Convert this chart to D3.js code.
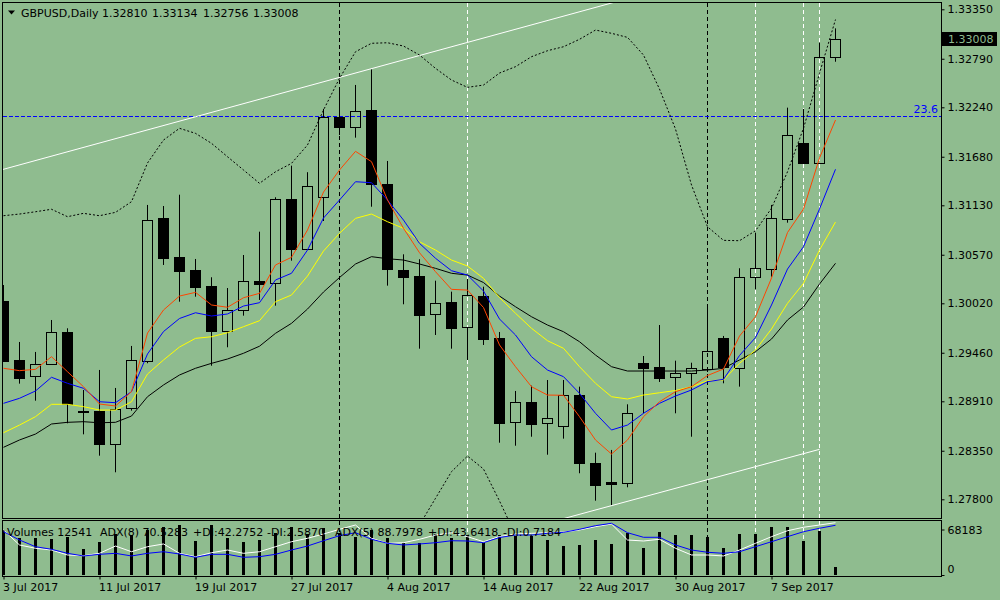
<!DOCTYPE html>
<html>
<head>
<meta charset="utf-8">
<script src="https://cdn.jsdelivr.net/npm/d3@7"></script>
<style>
  body { margin: 0; background: #8fbc8f; }
  svg { display: block; font-family: "DejaVu Sans", Verdana, sans-serif; }
</style>
</head>
<body>
<script>
// GBPUSD daily, 3 Jul 2017 .. 13 Sep 2017 (one entry per bar)
const symbol = "GBPUSD,Daily";

const open = [1.30050, 1.29378, 1.29200, 1.29329, 1.29695, 1.28803, 1.28800, 1.28430, 1.28831, 1.29370,
  1.30983, 1.30541, 1.30397, 1.30216, 1.29710, 1.29941, 1.30276, 1.30247, 1.31201, 1.30639,
  1.31228, 1.32127, 1.32014, 1.32210, 1.31371, 1.30397, 1.30329, 1.29896, 1.30032, 1.29748,
  1.30103, 1.29624, 1.28672, 1.28899, 1.28661, 1.28627, 1.28978, 1.28208, 1.27991, 1.27982,
  1.29341, 1.29295, 1.29182, 1.29227, 1.29279, 1.29627, 1.29291, 1.30315, 1.30405, 1.30978,
  1.31836, 1.31613, 1.32810];
const high = [1.30227, 1.29582, 1.29469, 1.29831, 1.29737, 1.29038, 1.29265, 1.29061, 1.29537, 1.31134,
  1.31122, 1.31250, 1.30522, 1.30315, 1.30193, 1.30567, 1.30831, 1.31221, 1.31579, 1.31505,
  1.32221, 1.32444, 1.32493, 1.32670, 1.31632, 1.30575, 1.30519, 1.30276, 1.30152, 1.30295,
  1.30208, 1.29695, 1.29027, 1.29087, 1.29151, 1.29151, 1.29076, 1.28328, 1.28359, 1.28876,
  1.29423, 1.29774, 1.29370, 1.29347, 1.29970, 1.29650, 1.30417, 1.30820, 1.31134, 1.32236,
  1.32221, 1.32972, 1.33134];
const low = [1.29355, 1.29110, 1.28917, 1.29321, 1.28661, 1.28536, 1.28294, 1.28106, 1.28804, 1.29341,
  1.30454, 1.30038, 1.30095, 1.29313, 1.29522, 1.29880, 1.30058, 1.29993, 1.30503, 1.30624,
  1.30952, 1.31926, 1.31896, 1.31114, 1.30220, 1.30009, 1.29506, 1.29661, 1.29506, 1.29378,
  1.29548, 1.28441, 1.28407, 1.28509, 1.28305, 1.28487, 1.28095, 1.27784, 1.27732, 1.27936,
  1.28774, 1.29129, 1.28774, 1.28509, 1.29242, 1.29114, 1.29076, 1.30179, 1.30321, 1.30933,
  1.31598, 1.31598, 1.32756];
const close = [1.29370, 1.29177, 1.29329, 1.29692, 1.28880, 1.28800, 1.28430, 1.28823, 1.29378, 1.30964,
  1.30537, 1.30389, 1.30208, 1.29710, 1.29941, 1.30273, 1.30242, 1.31198, 1.30635, 1.31349,
  1.32127, 1.32020, 1.32202, 1.31368, 1.30405, 1.30321, 1.29888, 1.30020, 1.29744, 1.30111,
  1.29619, 1.28668, 1.28899, 1.28656, 1.28718, 1.28978, 1.28208, 1.27966, 1.27974, 1.28774,
  1.29291, 1.29177, 1.29227, 1.29284, 1.29476, 1.29302, 1.30318, 1.30417, 1.30983, 1.31923,
  1.31613, 1.32806, 1.33008];

const maRed = [1.29284, 1.29257, 1.29272, 1.29415, 1.29245, 1.29075, 1.28879, 1.28857, 1.29019, 1.29683,
  1.29944, 1.30102, 1.30144, 1.30001, 1.29975, 1.30083, 1.30133, 1.30454, 1.30541, 1.30850,
  1.31280, 1.31530, 1.31741, 1.31624, 1.31190, 1.30869, 1.30593, 1.30378, 1.30178, 1.30170,
  1.29972, 1.29548, 1.29302, 1.29075, 1.28981, 1.28978, 1.28736, 1.28472, 1.28313, 1.28472,
  1.28736, 1.28905, 1.29019, 1.29075, 1.29202, 1.29276, 1.29649, 1.29868, 1.30306, 1.30822,
  1.31088, 1.31666, 1.32096];
const maBlue = [1.28887, 1.28944, 1.29027, 1.29182, 1.29114, 1.29057, 1.28905, 1.28894, 1.29019, 1.29446,
  1.29700, 1.29848, 1.29913, 1.29876, 1.29899, 1.29989, 1.30027, 1.30284, 1.30360, 1.30623,
  1.30986, 1.31190, 1.31397, 1.31386, 1.31190, 1.30963, 1.30699, 1.30530, 1.30389, 1.30340,
  1.30159, 1.29842, 1.29661, 1.29415, 1.29264, 1.29189, 1.29000, 1.28774, 1.28585, 1.28641,
  1.28774, 1.28887, 1.28970, 1.29038, 1.29132, 1.29159, 1.29429, 1.29632, 1.30001, 1.30408,
  1.30661, 1.31088, 1.31538];
const maYellow = [1.28554, 1.28641, 1.28736, 1.28876, 1.28876, 1.28849, 1.28811, 1.28811, 1.28905, 1.29219,
  1.29378, 1.29525, 1.29623, 1.29641, 1.29687, 1.29755, 1.29823, 1.30038, 1.30114, 1.30329,
  1.30612, 1.30813, 1.30982, 1.31031, 1.30944, 1.30869, 1.30717, 1.30623, 1.30510, 1.30442,
  1.30303, 1.30085, 1.29907, 1.29737, 1.29596, 1.29510, 1.29302, 1.29114, 1.28962, 1.28936,
  1.28981, 1.29007, 1.29032, 1.29075, 1.29143, 1.29151, 1.29340, 1.29491, 1.29729, 1.30020,
  1.30246, 1.30623, 1.30941];
const maBlack = [1.28389, 1.28472, 1.28539, 1.28653, 1.28672, 1.28679, 1.28667, 1.28672, 1.28743, 1.28962,
  1.29095, 1.29208, 1.29284, 1.29340, 1.29389, 1.29454, 1.29534, 1.29680, 1.29793, 1.29955,
  1.30148, 1.30312, 1.30465, 1.30548, 1.30525, 1.30510, 1.30465, 1.30416, 1.30360, 1.30340,
  1.30255, 1.30102, 1.29981, 1.29868, 1.29774, 1.29698, 1.29585, 1.29434, 1.29302, 1.29253,
  1.29253, 1.29253, 1.29253, 1.29253, 1.29264, 1.29284, 1.29378, 1.29472, 1.29615, 1.29831,
  1.29978, 1.30238, 1.30473];

const bbUpper = [1.31012, 1.31031, 1.31057, 1.31085, 1.31001, 1.31039, 1.31012, 1.31050, 1.31171, 1.31609,
  1.31869, 1.32002, 1.31945, 1.31832, 1.31680, 1.31530, 1.31379, 1.31510, 1.31605, 1.31813,
  1.32209, 1.32568, 1.32869, 1.32965, 1.32971, 1.32934, 1.32832, 1.32681, 1.32549, 1.32466,
  1.32492, 1.32628, 1.32700, 1.32813, 1.32881, 1.32926, 1.33010, 1.33115, 1.33078, 1.33032,
  1.32832, 1.32447, 1.31994, 1.31360, 1.30887, 1.30733, 1.30729, 1.30842, 1.31096, 1.31510,
  1.32002, 1.32625, 1.33234];
// lower band is only on screen for a few bars
const bbLower = [null, null, null, null, null, null, null, null, null, null,
  null, null, null, null, null, null, null, null, null, null,
  null, null, null, null, null, 1.27113, 1.27509, 1.27811, 1.28113, 1.28290,
  1.28143, 1.27781, 1.27396, null, null, null, null, null, null, null,
  null, null, null, null, null, null, null, null, null, null,
  null, null, null];

const volumes = [67430, 55815, 54909, 53853, 57323, 38768, 49780, 60943, 59887, 67430,
  72408, 74972, 50836, 74972, 54909, 48875, 52345, 62452, 72408, 61396,
  69994, 62452, 57323, 67430, 55815, 47367, 47367, 60943, 54909, 59887,
  48272, 59887, 58832, 58832, 52345, 43747, 44802, 52345, 46311, 62452,
  39824, 63960, 59887, 59887, 56418, 39824, 61396, 61396, 71503, 72408,
  51289, 66374, 12541];
const adxWhite = [83.2, 56.1, 50.1, 47.0, 38.0, 36.7, 41.0, 54.2, 43.9, 53.0,
  57.9, 41.0, 34.9, 42.1, 47.0, 41.0, 43.9, 53.0, 62.0, 68.2,
  75.9, 84.4, 92.2, 68.2, 59.1, 60.2, 66.4, 74.1, 78.3, 71.1,
  62.0, 71.4, 75.9, 77.2, 78.3, 79.6, 83.2, 89.2, 94.0, 65.1,
  63.3, 66.4, 50.1, 38.0, 38.0, 36.2, 47.0, 59.1, 71.1, 81.9,
  88.1, 92.2, 96.4];
const adxBlue = [80.1, 65.1, 53.0, 48.3, 41.0, 36.2, 39.2, 41.0, 36.2, 41.0,
  43.9, 39.8, 33.8, 39.2, 39.2, 33.8, 34.9, 39.2, 47.0, 54.2,
  63.8, 72.9, 78.3, 66.4, 59.1, 56.1, 57.9, 60.2, 63.8, 63.3,
  60.2, 69.6, 74.1, 74.1, 77.2, 79.0, 84.4, 91.0, 95.3, 78.3,
  70.0, 70.0, 56.1, 47.0, 42.9, 41.0, 43.9, 53.0, 62.0, 71.1,
  80.1, 86.3, 91.7];

const priceTicks = [1.33350, 1.32790, 1.32240, 1.31680, 1.31130, 1.30570, 1.30020, 1.29460, 1.28910, 1.28350, 1.27800];
const volTicks = [68183, 0];
const dateTickBars = [0, 6, 12, 18, 24, 30, 36, 42, 48];
const dateTickLabels = ["3 Jul 2017", "11 Jul 2017", "19 Jul 2017", "27 Jul 2017", "4 Aug 2017",
  "14 Aug 2017", "22 Aug 2017", "30 Aug 2017", "7 Sep 2017"];

// chart objects
const blackVLines = [21, 44];
const whiteVLines = [29, 47, 50, 51];
const fibLevel = 1.32138, fibLabel = "23.6";
const channelUpper = [[0, 1.31538], [36, 1.33322]];
const channelLower = [[36, 1.27630], [51, 1.28366]];

const adxText = [
  ["Volumes 12541", 7], ["ADX(8) 70.5283", 100], ["+DI:42.2752", 193], ["-DI:2.5870", 267],
  ["ADX(5) 88.7978", 335], ["+DI:43.6418", 428], ["-DI:0.7184", 503]
];

const bg = "#8fbc8f";
const n = close.length;

const svg = d3.select("body").append("svg")
  .attr("width", 1000).attr("height", 600);

svg.append("rect").attr("width", 1000).attr("height", 600).attr("fill", bg);

const defs = svg.append("defs");
defs.append("clipPath").attr("id", "clipMain")
  .append("rect").attr("x", 3).attr("y", 3).attr("width", 938).attr("height", 515);
defs.append("clipPath").attr("id", "clipSub")
  .append("rect").attr("x", 3).attr("y", 521).attr("width", 938).attr("height", 55);

const x = d3.scaleLinear().domain([0, n - 1]).range([3.5, 835.5]);
const y = d3.scaleLinear().domain([1.27800, 1.33350]).range([499.3, 9.3]);
const volY = d3.scaleLinear().domain([0, 68183]).range([575, 529.5]);
const adxY = d3.scaleLinear().domain([0, 100]).range([576, 520.7]);

const py = v => Math.round(y(v)) + 0.5;

// vertical lines run through both panels
const vl = svg.append("g");
vl.selectAll("line.b").data(blackVLines).join("line")
  .attr("x1", d => x(d)).attr("x2", d => x(d)).attr("y1", 3).attr("y2", 576)
  .attr("stroke", "#000").attr("stroke-dasharray", "4,3");
vl.selectAll("line.w").data(whiteVLines).join("line")
  .attr("x1", d => x(d)).attr("x2", d => x(d)).attr("y1", 3).attr("y2", 576)
  .attr("stroke", "#fff").attr("stroke-dasharray", "4,3");

const main = svg.append("g").attr("clip-path", "url(#clipMain)");

// fibo level
main.append("line")
  .attr("x1", 3).attr("x2", 941).attr("y1", py(fibLevel)).attr("y2", py(fibLevel))
  .attr("stroke", "#0000ff").attr("stroke-dasharray", "4,2");

// candles
const cg = main.append("g");
for (let i = 0; i < n; i++) {
  const cx = x(i);
  const top = Math.round(y(Math.max(open[i], close[i])));
  const bot = Math.round(y(Math.min(open[i], close[i])));
  const h = Math.max(bot - top, 1);
  cg.append("line").attr("x1", cx).attr("x2", cx)
    .attr("y1", y(high[i])).attr("y2", top + 0.5).attr("stroke", "#000");
  cg.append("line").attr("x1", cx).attr("x2", cx)
    .attr("y1", top + 0.5 + h).attr("y2", y(low[i])).attr("stroke", "#000");
  cg.append("rect")
    .attr("x", cx - 5).attr("y", top + 0.5).attr("width", 10).attr("height", h)
    .attr("fill", close[i] > open[i] ? "none" : "#000")
    .attr("stroke", "#000").attr("shape-rendering", "crispEdges");
}

// trend channel
function extend(a, b, from, to) {
  const p = t => a[1] + (b[1] - a[1]) * (t - a[0]) / (b[0] - a[0]);
  return [[x(from), y(p(from))], [x(to), y(p(to))]];
}
main.append("path").attr("d", d3.line()(extend(channelUpper[0], channelUpper[1], -1, 40)))
  .attr("stroke", "#fff").attr("fill", "none");
main.append("path").attr("d", d3.line()(extend(channelLower[0], channelLower[1], 30, 51)))
  .attr("stroke", "#fff").attr("fill", "none");

// indicators
const line = d3.line().defined(d => d != null).x((d, i) => x(i)).y(d => y(d));
[bbUpper, bbLower].forEach(s => {
  main.append("path").attr("d", line(s)).attr("fill", "none")
    .attr("stroke", "#000").attr("stroke-dasharray", "2,2");
});
[[maBlack, "#000000"], [maYellow, "#ffff00"], [maBlue, "#0000ff"], [maRed, "#ff4500"]].forEach(([s, c]) => {
  main.append("path").attr("d", line(s)).attr("fill", "none").attr("stroke", c);
});

// sub window: volumes + ADX
const sub = svg.append("g").attr("clip-path", "url(#clipSub)");
sub.selectAll("rect").data(volumes).join("rect")
  .attr("x", (d, i) => x(i) - 1.5).attr("width", 3)
  .attr("y", d => volY(d)).attr("height", d => volY(0) - volY(d))
  .attr("fill", "#000").attr("shape-rendering", "crispEdges");
const adxLine = d3.line().x((d, i) => x(i)).y(d => adxY(d));
sub.append("path").attr("d", adxLine(adxWhite)).attr("fill", "none").attr("stroke", "#fff");
sub.append("path").attr("d", adxLine(adxBlue)).attr("fill", "none").attr("stroke", "#0000ff");

sub.selectAll("text").data(adxText).join("text")
  .attr("x", d => d[1]).attr("y", 535.5)
  .attr("font-size", 11).attr("fill", "#000")
  .text(d => d[0]);

// frames
const frame = svg.append("g").attr("fill", "none").attr("stroke", "#000")
  .attr("shape-rendering", "crispEdges");
frame.append("rect").attr("x", 2.5).attr("y", 2.5).attr("width", 939).attr("height", 516);
frame.append("rect").attr("x", 2.5).attr("y", 520.5).attr("width", 939).attr("height", 56);

// price axis
const ya = svg.append("g").attr("transform", "translate(941.5,0)")
  .call(d3.axisRight(y).tickValues(priceTicks).tickFormat(d3.format(".5f")).tickSize(3).tickPadding(3));
ya.select(".domain").remove();
ya.attr("font-family", null).attr("font-size", 11);
ya.selectAll("text").attr("fill", "#000");

// fibo label
svg.append("text").attr("x", 938).attr("y", py(fibLevel) - 3.5)
  .attr("text-anchor", "end").attr("font-size", 11).attr("fill", "#0000ff")
  .text(fibLabel);

// current price marker
const last = close[n - 1];
svg.append("rect").attr("x", 942).attr("y", Math.round(y(last)) - 7)
  .attr("width", 55).attr("height", 14).attr("fill", "#000");
svg.append("text").attr("x", 948).attr("y", y(last)).attr("dy", "0.36em")
  .attr("font-size", 11).attr("fill", bg)
  .text(d3.format(".5f")(last));

// volume axis
const va = svg.append("g").attr("transform", "translate(941.5,0)")
  .call(d3.axisRight(volY).tickValues(volTicks).tickFormat(d3.format("d")).tickSize(3).tickPadding(3));
va.select(".domain").remove();
va.attr("font-family", null).attr("font-size", 11);
va.selectAll("text").attr("fill", "#000");
va.selectAll(".tick").filter(d => d === 0).select("text").attr("y", -6);

// time axis
const xa = svg.append("g").attr("transform", "translate(0,576.5)")
  .call(d3.axisBottom(x).tickValues(dateTickBars).tickFormat((d, i) => dateTickLabels[i]).tickSize(3).tickPadding(4));
xa.select(".domain").remove();
xa.attr("font-family", null).attr("font-size", 11);
xa.selectAll("text").attr("fill", "#000").attr("text-anchor", "start").attr("x", -1);

// header
svg.append("path").attr("d", "M8,10.5L15,10.5L11.5,14.5Z").attr("fill", "#000");
const header = [[symbol, 21], [d3.format(".5f")(open[n - 1]), 102], [d3.format(".5f")(high[n - 1]), 152],
  [d3.format(".5f")(low[n - 1]), 203], [d3.format(".5f")(close[n - 1]), 253]];
svg.selectAll("text.hdr").data(header).join("text").attr("class", "hdr")
  .attr("x", d => d[1]).attr("y", 17).attr("font-size", 11).attr("fill", "#000")
  .text(d => d[0]);
</script>
</body>
</html>
